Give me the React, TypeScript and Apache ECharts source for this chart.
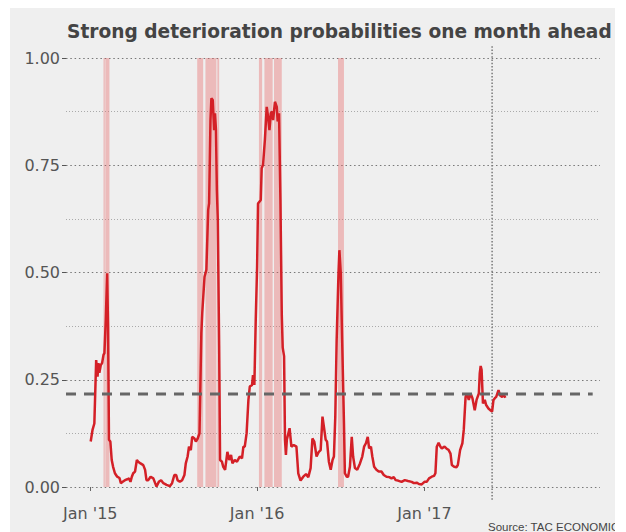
import React, { useEffect, useRef } from "react";
import * as echarts from "echarts";

const titleText = "Strong deterioration probabilities one month ahead";
const sourceText = "Source: TAC ECONOMICS";

const dates = [
  "2015-01-02","2015-01-06","2015-01-10","2015-01-14","2015-01-17","2015-01-19","2015-01-21","2015-01-24","2015-01-27","2015-01-30",
  "2015-02-01","2015-02-04","2015-02-07","2015-02-09","2015-02-11","2015-02-14","2015-02-17","2015-02-20","2015-02-24","2015-03-01",
  "2015-03-06","2015-03-09","2015-03-13","2015-03-18","2015-03-23","2015-03-27","2015-03-30","2015-04-02","2015-04-05","2015-04-09",
  "2015-04-13","2015-04-16","2015-04-21","2015-04-27","2015-05-01","2015-05-04","2015-05-08","2015-05-13","2015-05-19","2015-05-23",
  "2015-05-26","2015-05-31","2015-06-05","2015-06-10","2015-06-17","2015-06-24","2015-06-29","2015-07-04","2015-07-08","2015-07-11",
  "2015-07-16","2015-07-21","2015-07-26","2015-07-29","2015-08-02","2015-08-05","2015-08-09","2015-08-12","2015-08-17","2015-08-20",
  "2015-08-24","2015-08-28","2015-09-01","2015-09-03","2015-09-08","2015-09-12","2015-09-16","2015-09-18","2015-09-21","2015-09-23",
  "2015-09-26","2015-09-29","2015-10-01","2015-10-03","2015-10-05","2015-10-07","2015-10-10","2015-10-12","2015-10-16","2015-10-19",
  "2015-10-23","2015-10-28","2015-11-01","2015-11-05","2015-11-08","2015-11-13","2015-11-18","2015-11-24","2015-11-29","2015-12-02",
  "2015-12-05","2015-12-09","2015-12-13","2015-12-16","2015-12-21","2015-12-23","2015-12-26","2015-12-29","2016-01-01","2016-01-03",
  "2016-01-09","2016-01-11","2016-01-14","2016-01-18","2016-01-22","2016-01-25","2016-01-28","2016-01-31","2016-02-03","2016-02-05",
  "2016-02-09","2016-02-13","2016-02-15","2016-02-18","2016-02-21","2016-02-24","2016-02-26","2016-02-29","2016-03-02","2016-03-04",
  "2016-03-06","2016-03-12","2016-03-16","2016-03-21","2016-03-27","2016-03-31","2016-04-05","2016-04-11","2016-04-17","2016-04-22",
  "2016-04-27","2016-05-01","2016-05-05","2016-05-10","2016-05-15","2016-05-19","2016-05-23","2016-05-26","2016-05-30","2016-06-02",
  "2016-06-06","2016-06-10","2016-06-14","2016-06-17","2016-06-20","2016-06-23","2016-06-27","2016-06-29","2016-07-02","2016-07-05",
  "2016-07-09","2016-07-11","2016-07-15","2016-07-18","2016-07-22","2016-07-26","2016-07-29","2016-08-02","2016-08-07","2016-08-13",
  "2016-08-18","2016-08-22","2016-08-26","2016-08-30","2016-09-02","2016-09-06","2016-09-09","2016-09-13","2016-09-18","2016-09-23",
  "2016-09-29","2016-10-04","2016-10-10","2016-10-16","2016-10-21","2016-10-26","2016-10-30","2016-11-04","2016-11-12","2016-11-19",
  "2016-11-26","2016-12-04","2016-12-09","2016-12-15","2016-12-20","2016-12-26","2017-01-01","2017-01-06","2017-01-11","2017-01-17",
  "2017-01-22","2017-01-25","2017-01-28","2017-02-01","2017-02-05","2017-02-08","2017-02-14","2017-02-18","2017-02-23","2017-02-27",
  "2017-03-02","2017-03-07","2017-03-12","2017-03-15","2017-03-20","2017-03-25","2017-03-28","2017-04-01","2017-04-04","2017-04-08",
  "2017-04-12","2017-04-16","2017-04-21","2017-04-25","2017-04-30","2017-05-02","2017-05-04","2017-05-06","2017-05-09","2017-05-13",
  "2017-05-16","2017-05-21","2017-05-25","2017-05-29","2017-06-01","2017-06-04","2017-06-07","2017-06-12","2017-06-15","2017-06-20",
  "2017-06-24","2017-06-27"
];

const probabilities = [
  0.106,0.133,0.148,0.296,0.257,0.289,0.266,0.284,0.289,0.308,
  0.312,0.389,0.498,0.374,0.110,0.106,0.063,0.047,0.032,0.024,
  0.021,0.009,0.012,0.016,0.018,0.020,0.012,0.024,0.032,0.036,
  0.063,0.059,0.055,0.051,0.040,0.016,0.016,0.024,0.020,0.009,
  0.001,0.012,0.016,0.009,0.005,0.002,0.009,0.028,0.028,0.016,
  0.012,0.016,0.028,0.055,0.071,0.094,0.086,0.117,0.113,0.106,
  0.113,0.125,0.358,0.405,0.490,0.506,0.646,0.661,0.855,0.906,
  0.902,0.832,0.871,0.832,0.692,0.622,0.327,0.063,0.059,0.047,
  0.040,0.082,0.063,0.075,0.055,0.063,0.059,0.071,0.067,0.094,
  0.094,0.125,0.203,0.234,0.238,0.261,0.238,0.389,0.514,0.661,
  0.669,0.743,0.751,0.809,0.886,0.863,0.832,0.871,0.875,0.855,
  0.898,0.886,0.852,0.871,0.669,0.400,0.325,0.305,0.110,0.075,
  0.110,0.137,0.094,0.098,0.094,0.032,0.015,0.024,0.030,0.023,
  0.044,0.113,0.106,0.071,0.082,0.086,0.164,0.141,0.110,0.106,
  0.059,0.040,0.063,0.071,0.164,0.343,0.498,0.552,0.498,0.343,
  0.148,0.032,0.024,0.024,0.047,0.117,0.071,0.044,0.040,0.055,
  0.071,0.094,0.102,0.117,0.090,0.094,0.071,0.047,0.040,0.036,
  0.036,0.028,0.024,0.023,0.020,0.023,0.016,0.015,0.012,0.016,
  0.014,0.012,0.009,0.010,0.007,0.006,0.012,0.012,0.020,0.024,
  0.026,0.032,0.094,0.103,0.094,0.090,0.094,0.090,0.086,0.078,
  0.051,0.047,0.046,0.051,0.086,0.102,0.133,0.210,0.218,0.203,
  0.218,0.207,0.179,0.203,0.218,0.265,0.282,0.273,0.195,0.203,
  0.191,0.183,0.179,0.176,0.203,0.207,0.210,0.226,0.214,0.210,
  0.214,0.208
];

// Shaded periods (start, end)
const bandStarts = ["2015-01-30","2015-02-03","2015-08-23","2015-09-10","2015-10-06","2016-01-05","2016-01-17","2016-02-07","2016-06-26"];
const bandEnds   = ["2015-02-02","2015-02-12","2015-09-05","2015-10-04","2015-10-10","2016-01-12","2016-02-04","2016-02-24","2016-07-09"];

const thresholdValue = 0.217;
const thresholdDates = ["2014-11-09", "2018-01-04"];
const nowDate = "2017-05-29";
const nowRange = [-0.03, 1.028];

const xMin = "2014-11-09";
const xMax = "2018-01-20";
const xTickDates = ["2015-01-01", "2016-01-01", "2017-01-01"];
const xTickLabels = ["Jan '15", "Jan '16", "Jan '17"];
const yTicks = [0, 0.25, 0.5, 0.75, 1];

function toTime(s: string): number {
  const [y, m, d] = s.split("-").map(Number);
  return Date.UTC(y, m - 1, d);
}

export default function App() {
  const ref = useRef<HTMLDivElement>(null);
  useEffect(() => {
    if (!ref.current) return;
    const chart = echarts.init(ref.current, null, { renderer: "svg" });
    const lineData = dates.map((d, i) => [toTime(d), probabilities[i]]);
    const tickTimes = xTickDates.map(toTime);
    const option: any = {
      animation: false,
      backgroundColor: "#efefef",
      title: {
        text: titleText,
        left: 57,
        top: 14,
        padding: 0,
        textStyle: { fontFamily: "DejaVu Sans", fontWeight: "bold", fontSize: 18.6, color: "#444444" },
      },
      graphic: [
        {
          type: "text",
          left: 478,
          bottom: -1,
          style: { text: sourceText, font: "11.5px 'Liberation Sans'", fill: "#444444" },
        },
      ],
      grid: { left: 56, right: 15, top: 50, bottom: 45, containLabel: false },
      xAxis: {
        type: "value",
        min: toTime(xMin),
        max: toTime(xMax),
        offset: 12,
        axisLine: { show: false },
        axisTick: { show: true, length: 4, customValues: tickTimes, lineStyle: { color: "#666", width: 1 } },
        axisLabel: {
          customValues: tickTimes,
          margin: 6,
          fontFamily: "DejaVu Sans",
          fontSize: 16,
          color: "#555555",
          formatter: (v: number) => {
            const i = tickTimes.indexOf(v);
            return i >= 0 ? xTickLabels[i] : "";
          },
        },
        splitLine: { show: false },
      },
      yAxis: {
        type: "value",
        min: yTicks[0],
        max: yTicks[yTicks.length - 1],
        interval: 0.25,
        axisLine: { show: false },
        axisTick: { show: true, length: 4, lineStyle: { color: "#555", width: 1 } },
        axisLabel: {
          margin: 6,
          fontFamily: "DejaVu Sans",
          fontSize: 16,
          color: "#555555",
          formatter: (v: number) => v.toFixed(2),
        },
        splitLine: { show: true, lineStyle: { color: "#777", width: 1.2, type: [1.5, 2.8] } },
        minorTick: { show: false, splitNumber: 2 },
        minorSplitLine: { show: true, lineStyle: { color: "#aaa", width: 1, type: [1, 2] } },
      },
      series: [
        {
          type: "line",
          data: lineData,
          showSymbol: false,
          symbol: "none",
          z: 3,
          lineStyle: { color: "#d42027", width: 2.5 },
          markArea: {
            silent: true,
            itemStyle: { color: "rgba(232, 100, 100, 0.38)" },
            data: bandStarts.map((s, i) => [
              { xAxis: toTime(s), yAxis: yTicks[0] },
              { xAxis: toTime(bandEnds[i]), yAxis: yTicks[yTicks.length - 1] },
            ]),
          },
        },
        {
          type: "line",
          data: thresholdDates.map((d) => [toTime(d), thresholdValue]),
          symbol: "none",
          silent: true,
          clip: false,
          z: 4,
          lineStyle: { color: "#666666", width: 3, type: [10, 8] },
        },
        {
          type: "line",
          data: nowRange.map((v) => [toTime(nowDate), v]),
          symbol: "none",
          silent: true,
          clip: false,
          z: 2,
          lineStyle: { color: "#777777", width: 1.5, type: [1.5, 1.8] },
        },
      ],
    };
    chart.setOption(option);
    return () => chart.dispose();
  }, []);
  return (
    <div
      ref={ref}
      style={{ width: 605, height: 524, marginLeft: 2 }}
    />
  );
}
